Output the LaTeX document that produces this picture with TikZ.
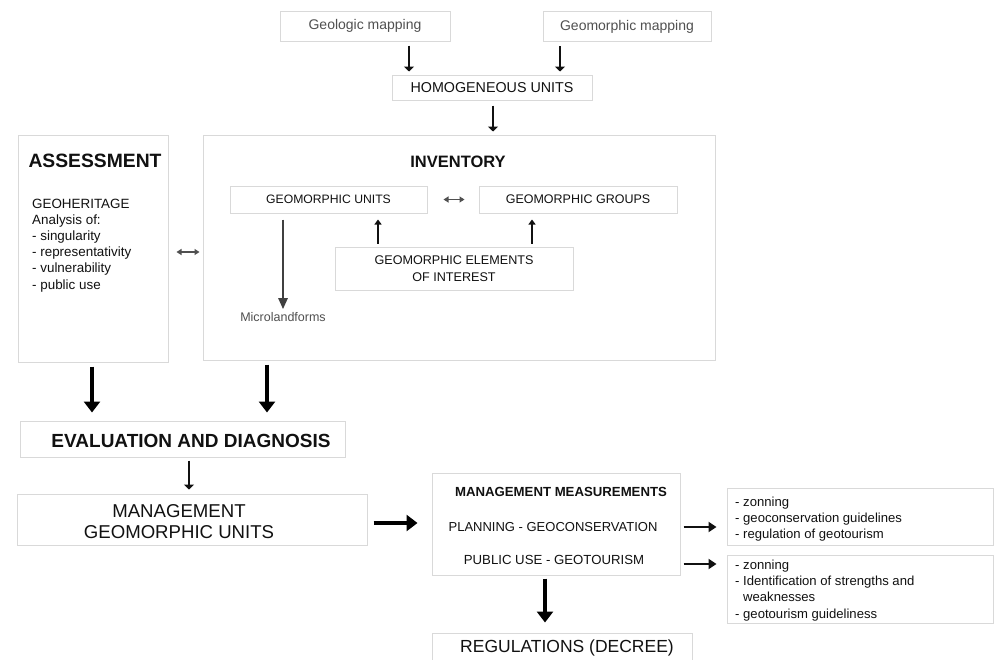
\documentclass[tikz,border=0pt]{standalone}
\usepackage{fontspec}
\setmainfont{Liberation Sans}
\usetikzlibrary{arrows.meta,calc}
\definecolor{boxline}{HTML}{D9D9D9}
\definecolor{txt}{HTML}{111111}
\definecolor{softtxt}{HTML}{505050}
\newcommand{\fs}[2]{\fontsize{#1}{#2}\selectfont}
\tikzset{
  box/.style={draw=boxline, line width=1pt, rectangle, inner sep=0pt},
  lbl/.style={text=txt, inner sep=0pt},
  thin arrow/.style={draw=txt, line width=1.8pt, -{Triangle[length=5pt,width=10pt]}},
  up arrow/.style={draw=txt, line width=1.4pt, -{Triangle[length=5pt,width=7pt]}},
  mid arrow/.style={draw=txt, line width=2.4pt, -{Triangle[length=8pt,width=10pt]}},
  big arrow/.style={draw=black, line width=3.2pt, -{Triangle[length=11pt,width=16pt]}},
  gray arrow/.style={draw=softtxt!80!black, line width=2.4pt, -{Triangle[length=11pt,width=9pt]}},
  dbl arrow/.style={draw=softtxt, line width=1.8pt, {Triangle[length=5pt,width=6pt]}-{Triangle[length=5pt,width=6pt]}},
}
\begin{document}
\begin{tikzpicture}[x=1pt,y=-1pt]
\useasboundingbox (0,0) rectangle (995,659);
\fill[white] (0,0) rectangle (995,659);

% top
\node[box, minimum width=170, minimum height=30, text=softtxt, font=\fs{14}{16}] (geol) at (365,26) {Geologic mapping};
\node[box, minimum width=168, minimum height=30, text=softtxt, font=\fs{14}{16}] (geom) at (627,26.5) {Geomorphic mapping};
\node[box, minimum width=200, minimum height=25, lbl, font=\fs{14.3}{16}] (homog) at (492,87.5) {HOMOGENEOUS UNITS};

% inventory
\node[box, minimum width=512, minimum height=225] (inv) at (459,247.5) {};
\node[lbl, font=\bfseries\fs{16.5}{18}] (invt) at (458,162) {INVENTORY};
\node[box, minimum width=197, minimum height=27, lbl, font=\fs{12.2}{14}] (gu) at (328.5,199.5) {GEOMORPHIC UNITS};
\node[box, minimum width=198, minimum height=27, lbl, font=\fs{12.5}{14}] (gg) at (578,199.5) {GEOMORPHIC GROUPS};
\node[box, minimum width=238, minimum height=43, lbl, align=center, font=\fs{12.6}{17}] (gei) at (454,268.5) {GEOMORPHIC ELEMENTS\\OF INTEREST};
\node[text=softtxt, inner sep=0pt, font=\fs{12.5}{14}] (micro) at (283,317) {Microlandforms};

% assessment
\node[box, minimum width=150, minimum height=227] (assess) at (93,248.5) {};
\node[lbl, font=\bfseries\fs{19.3}{22}] (asst) at (95,161) {ASSESSMENT};
\node[lbl, anchor=north west, align=left, font=\fs{13.4}{16.2}] (geoher) at (32,198.5) {GEOHERITAGE\\Analysis of:\\- singularity\\- representativity\\- vulnerability\\- public use};

% evaluation / management
\node[box, minimum width=325, minimum height=36] (eval) at (182.5,439) {};
\node[lbl, font=\bfseries\fs{19}{22}] (evalt) at (191,441) {EVALUATION AND DIAGNOSIS};
\node[box, minimum width=350, minimum height=51] (mgu) at (192,519.5) {};
\node[lbl, align=center, font=\fs{18.6}{21}] (mgut) at (179,521.5) {MANAGEMENT\\GEOMORPHIC UNITS};

\node[box, minimum width=248, minimum height=102] (mm) at (556,524) {};
\node[lbl, font=\bfseries\fs{13.2}{15}] (mmt) at (561,492) {MANAGEMENT MEASUREMENTS};
\node[lbl, font=\fs{13}{15}] (plan) at (553,527) {PLANNING - GEOCONSERVATION};
\node[lbl, font=\fs{13.2}{15}] (pub) at (554,560) {PUBLIC USE - GEOTOURISM};

\node[box, minimum width=266, minimum height=57] (r1) at (860,516.5) {};
\node[lbl, anchor=north west, align=left, font=\fs{13.1}{16}] (r1t) at (735,497) {- zonning\\- geoconservation guidelines\\- regulation of geotourism};
\node[box, minimum width=266, minimum height=68] (r2) at (860,589) {};
\node[lbl, anchor=north west, align=left, font=\fs{13.1}{16.3}] (r2t) at (735,559.5) {- zonning\\- Identification of strengths and\\\phantom{- }weaknesses\\- geotourism guideliness};

\node[box, minimum width=260, minimum height=34] (reg) at (562,650) {};
\node[lbl, font=\fs{17.5}{20}] (regt) at (567,648) {REGULATIONS (DECREE)};

% connectors
\draw[thin arrow] ([xshift=44pt,yshift=-4pt]geol.south) -- ([xshift=-83pt,yshift=3pt]homog.north);
\draw[thin arrow] ([xshift=-67pt,yshift=-4pt]geom.south) -- ([xshift=68pt,yshift=3pt]homog.north);
\draw[thin arrow] ([xshift=1pt,yshift=-5pt]homog.south) -- ([xshift=34pt,yshift=3pt]inv.north);
\draw[dbl arrow] ([xshift=16pt]gu.east) -- ([xshift=-14pt]gg.west);
\draw[up arrow] ([xshift=-76pt,yshift=3pt]gei.north) -- ([xshift=49.5pt,yshift=-6pt]gu.south);
\draw[up arrow] ([xshift=78pt,yshift=3pt]gei.north) -- ([xshift=-46pt,yshift=-6pt]gg.south);
\draw[gray arrow] ([xshift=-45.5pt,yshift=-6pt]gu.south) -- ([yshift=3pt]micro.north);
\draw[dbl arrow] ([xshift=8pt,yshift=-3.5pt]assess.east) -- ([xshift=-3pt,yshift=-4.5pt]inv.west);
\draw[big arrow] ([xshift=-1pt,yshift=-4pt]assess.south) -- ([xshift=-90.5pt,yshift=8pt]eval.north);
\draw[big arrow] ([xshift=-192pt,yshift=-4pt]inv.south) -- ([xshift=84.5pt,yshift=8pt]eval.north);
\draw[thin arrow] ([xshift=6.5pt,yshift=-3pt]eval.south) -- ([xshift=-3pt,yshift=4pt]mgu.north);
\draw[big arrow] ([xshift=6pt,yshift=-3.5pt]mgu.east) -- ([xshift=-14pt,yshift=-3.5pt]mgu.east -| mm.west);
\draw[mid arrow] ([xshift=3pt,yshift=-3pt]mm.east) -- ([xshift=-10pt,yshift=-3pt]mm.east -| r1.west);
\draw[mid arrow] ([xshift=3pt,yshift=-40pt]mm.east) -- ([xshift=-10pt,yshift=-40pt]mm.east -| r2.west);
\draw[big arrow] ([xshift=-11pt,yshift=-3pt]mm.south) -- ([xshift=-17pt,yshift=10pt]reg.north);
\end{tikzpicture}
\end{document}
